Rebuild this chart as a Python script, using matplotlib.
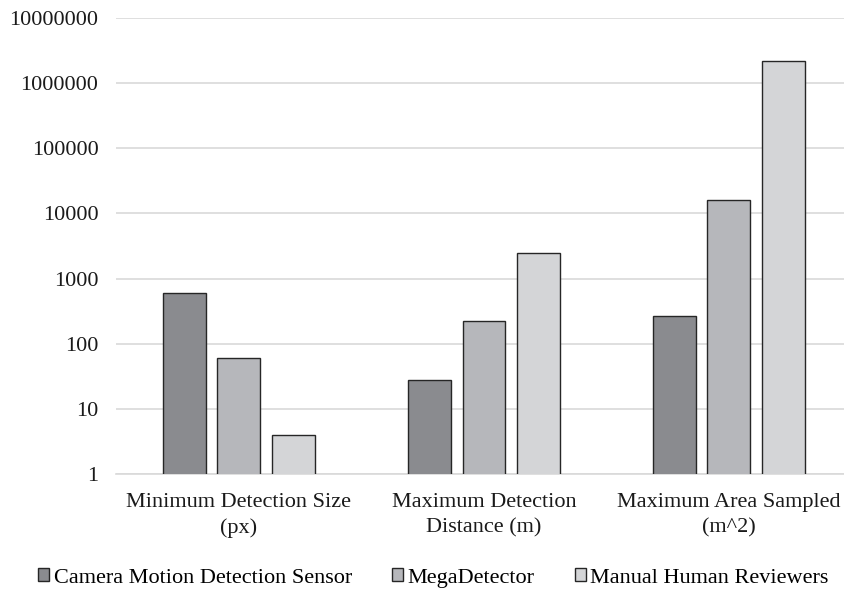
import numpy as np
import matplotlib.pyplot as plt

categories = ['Minimum Detection Size\n(px)', 'Maximum Detection\nDistance (m)', 'Maximum Area Sampled\n(m^2)']
series = ['Camera Motion Detection Sensor', 'MegaDetector', 'Manual Human Reviewers']
camera = [600, 28, 270]
megadetector = [60, 220, 16000]
manual = [4, 2500, 2150000]
yticks = [1, 10, 100, 1000, 10000, 100000, 1000000, 10000000]

colors = ['#8a8b8f', '#b6b7bb', '#d4d5d7']

plt.rcParams['font.family'] = ['Liberation Serif', 'DejaVu Serif']

fig = plt.figure(figsize=(8.45, 5.89), dpi=100)
ax = fig.add_axes([116.5/845, 115/589, (845-116.5)/845, 456/589])

x = np.arange(len(categories))
w = 43/245
step = 54.5/245
for i, (vals, name) in enumerate(zip([camera, megadetector, manual], series)):
    ax.bar(x + (i-1)*step, vals, width=w, color=colors[i], edgecolor='#262626',
           linewidth=1.0, label=name, zorder=3)

ax.set_yscale('log')
ax.set_ylim(1, 1e7)
ax.set_xlim(-0.5, -0.5 + (845-116.5)/245)
ax.set_yticks(yticks)
ax.set_yticklabels([str(v) for v in yticks])
ax.minorticks_off()
ax.yaxis.grid(True, color='#d9d9d9', linewidth=1.2, zorder=0)
ax.set_xticks(x)
ax.set_xticklabels(categories, linespacing=1.38)
for s in ['top', 'right', 'left']:
    ax.spines[s].set_visible(False)
ax.spines['bottom'].set_color('#d9d9d9')
ax.spines['bottom'].set_linewidth(1.2)
ax.tick_params(axis='y', length=0, pad=13, labelsize=16, colors='#1a1a1a')
ax.tick_params(axis='x', length=0, pad=14, labelsize=16, colors='#1a1a1a')

fig.legend(loc='center', bbox_to_anchor=(0.513, (589-578)/589),
           ncol=3, frameon=False, fontsize=16, handlelength=0.5, handleheight=0.5,
           handletextpad=0.2, columnspacing=1.8)

fig.savefig('out.png', dpi=100)
